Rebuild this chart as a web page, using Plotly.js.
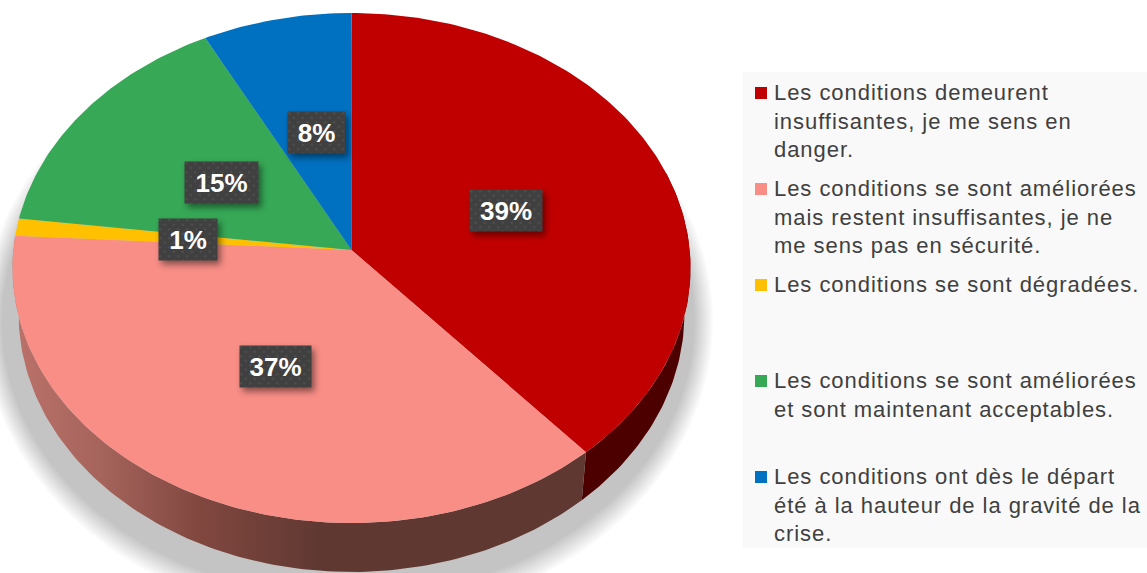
<!DOCTYPE html>
<html><head><meta charset="utf-8">
<script src="https://cdn.plot.ly/plotly-3.0.1.min.js"></script>
<style>
html,body{margin:0;padding:0;background:#fff;overflow:hidden}
#chart{width:1147px;height:573px}
.annotation rect.bg{filter:drop-shadow(3px 4px 3px rgba(0,0,0,.45))}
.annotation-text[style*="font-size: 22"]{letter-spacing:.95px}
</style></head><body>
<svg width="0" height="0" style="position:absolute"><defs>
<pattern id="dots" width="9" height="9" patternUnits="userSpaceOnUse">
<rect width="9" height="9" fill="#404040"/><circle cx="2.25" cy="2.25" r="1.3" fill="#4c4c4c"/><circle cx="6.75" cy="6.75" r="1.3" fill="#4c4c4c"/>
</pattern></defs></svg>
<div id="chart"></div>
<script>
const categories = [
  "Les conditions demeurent<br>insuffisantes, je me sens en<br>danger.",
  "Les conditions se sont améliorées<br>mais restent insuffisantes, je ne<br>me sens pas en sécurité.",
  "Les conditions se sont dégradées.",
  "Les conditions se sont améliorées<br>et sont maintenant acceptables.",
  "Les conditions ont dès le départ<br>été à la hauteur de la gravité de la<br>crise."
];
const shares = [38.6, 37.3, 1.1, 15.4, 7.6];
const shareLabels = ["39%", "37%", "1%", "15%", "8%"];
const sliceColors = ["#c00000", "#f88e86", "#ffc000", "#36a856", "#0070c0"];

const W = 1147, H = 573;
const CX = 351.5, CY = 268, RX = 339, RY = 255;   // pixel frame of the unit ellipse
const TILT = 0.0706;                              // perspective shift of the apex
const WALL = {sx: 0.982, sy: 1.012, dy: -0.18};   // lower rim of the disc

function rim(turn) {
  const a = turn * 2 * Math.PI, x = Math.sin(a), y = Math.cos(a), d = 1 + TILT * y;
  return [x * Math.sqrt(1 - TILT * TILT) / d, (y + TILT) / d];
}
function arc(t0, t1) {
  const n = Math.max(2, Math.ceil(Math.abs(t1 - t0) * 360)), out = [];
  for (let i = 0; i <= n; i++) out.push(rim(t0 + (t1 - t0) * i / n));
  return out;
}
const lower = p => [p[0] * WALL.sx, p[1] * WALL.sy + WALL.dy];

const total = shares.reduce((a, b) => a + b, 0);
const edges = [0];
shares.forEach(v => edges.push(edges[edges.length - 1] + v / total));

const traces = [];
// soft shadow under the disc
const SHADOW_LAYERS = 12;
for (let i = 0; i < SHADOW_LAYERS; i++) {
  const grow = 0.05 + 0.085 * (1 - i / SHADOW_LAYERS), xs = [], ys = [];
  for (let k = 0; k <= 240; k++) {
    const a = k / 240 * 2 * Math.PI;
    xs.push(Math.sin(a) * (WALL.sx + grow * 0.7) - 0.01);
    ys.push(Math.cos(a) * (WALL.sy + grow * 1.2) + WALL.dy - 0.03);
  }
  traces.push({type: "scatter", mode: "lines", x: xs, y: ys, fill: "toself",
    fillcolor: "rgba(0,0,0,0.021)", line: {width: 0}, hoverinfo: "skip", showlegend: false});
}
// side wall
function wall(t0, t1, style) {
  const top = arc(t0, t1), bot = arc(t0, t1).map(lower).reverse();
  const pts = top.concat(bot);
  traces.push(Object.assign({type: "scatter", mode: "lines", x: pts.map(p => p[0]), y: pts.map(p => p[1]),
    fill: "toself", line: {width: 0}, hoverinfo: "skip", showlegend: false}, style));
}
wall(0.2, edges[1], {fillcolor: "#4d0000"});
wall(edges[1], edges[2], {fillgradient: {type: "horizontal", colorscale: [
  [0, "#bb726a"], [0.154, "#a5645c"], [0.33, "#80473f"], [0.54, "#5f3832"], [1, "#5f3832"]]}});
// top face
shares.forEach((v, i) => {
  const pts = [[0, TILT]].concat(arc(edges[i], edges[i + 1]), [[0, TILT]]);
  traces.push({type: "scatter", mode: "lines", x: pts.map(p => p[0]), y: pts.map(p => p[1]),
    fill: "toself", fillcolor: sliceColors[i], line: {width: 0, color: sliceColors[i]},
    name: shareLabels[i], hoverinfo: "name", showlegend: false});
});

// labels sit at a fraction of the radius on each slice's middle direction
const labelRadius = 0.48;
const labelNudge = [[6, -2.5], [0, 0], [-3, -1], [-2.5, 0], [1, 6.5]];
const labelWidths = [70, 69, 56, 71, 55];
const annotations = shares.map((v, i) => {
  const p = rim((edges[i] + edges[i + 1]) / 2);
  return {xref: "x", yref: "y", x: p[0] * labelRadius, y: TILT + (p[1] - TILT) * labelRadius,
    xshift: labelNudge[i][0], yshift: labelNudge[i][1], showarrow: false, text: "<b>" + shareLabels[i] + "</b>",
    bgcolor: "#404040", width: labelWidths[i], height: 39, xanchor: "center", yanchor: "middle",
    font: {family: "Liberation Sans, Arial, sans-serif", size: 26, color: "#ffffff"}};
});

// legend panel
const LEG = {x0: 743, x1: 1147, y0: 72, y1: 548, rowTop: 79, rowStep: 96, swX: 755, swS: 12, swDy: 8, textX: 773};
const px = x => x / W, py = y => 1 - y / H;
const shapes = [{type: "rect", xref: "paper", yref: "paper", x0: px(LEG.x0), x1: px(LEG.x1), y0: py(LEG.y0), y1: py(LEG.y1),
  fillcolor: "#f9f9f9", line: {width: 0}, layer: "below"}];
categories.forEach((c, i) => {
  const top = LEG.rowTop + i * LEG.rowStep;
  shapes.push({type: "rect", xref: "paper", yref: "paper", x0: px(LEG.swX), x1: px(LEG.swX + LEG.swS),
    y0: py(top + LEG.swDy), y1: py(top + LEG.swDy + LEG.swS), fillcolor: sliceColors[i], line: {width: 0}});
  annotations.push({xref: "paper", yref: "paper", x: px(LEG.textX), y: py(top), xanchor: "left", yanchor: "top",
    align: "left", showarrow: false, text: c, borderpad: 0,
    font: {family: "Liberation Sans, Arial, sans-serif", size: 22, color: "#404040"}});
});

Plotly.newPlot("chart", traces, {
  width: W, height: H, margin: {l: 0, r: 0, t: 0, b: 0},
  paper_bgcolor: "#ffffff", plot_bgcolor: "rgba(0,0,0,0)", showlegend: false,
  xaxis: {visible: false, range: [-CX / RX, (W - CX) / RX], fixedrange: true},
  yaxis: {visible: false, range: [(CY - H) / RY, CY / RY], fixedrange: true},
  shapes, annotations
}, {displayModeBar: false, responsive: false}).then(gd => {
  gd.querySelectorAll(".annotation rect.bg").forEach(r => {
    if (r.style.fill.indexOf("64, 64, 64") >= 0) r.style.fill = "url(#dots)";
  });
});
</script></body></html>
